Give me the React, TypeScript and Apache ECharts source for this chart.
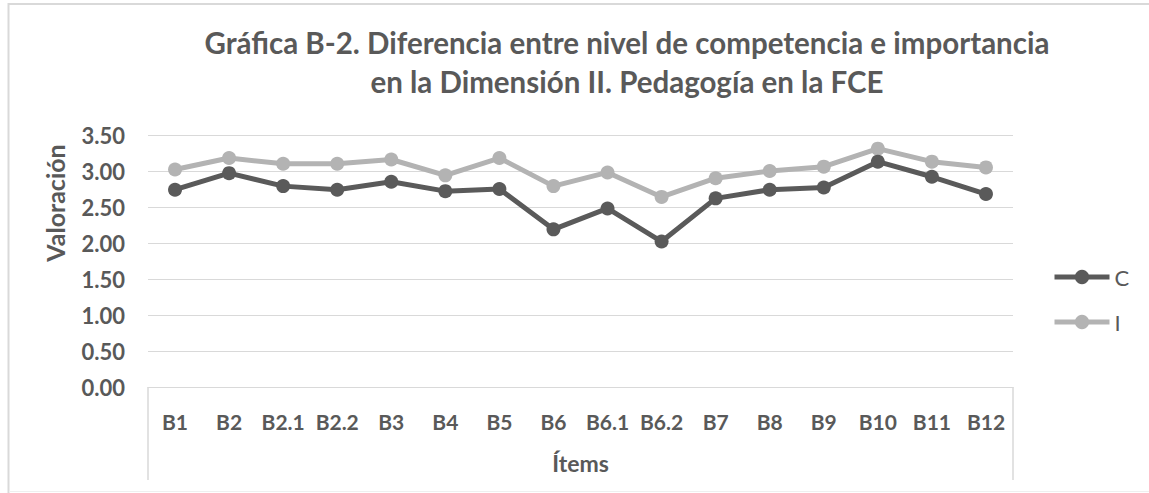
import React, { useEffect, useRef } from "react";
import * as echarts from "echarts";

const categories = ["B1", "B2", "B2.1", "B2.2", "B3", "B4", "B5", "B6", "B6.1", "B6.2", "B7", "B8", "B9", "B10", "B11", "B12"];
const valuesC = [2.74, 2.97, 2.79, 2.74, 2.85, 2.72, 2.75, 2.19, 2.48, 2.02, 2.62, 2.74, 2.77, 3.13, 2.92, 2.68];
const valuesI = [3.02, 3.18, 3.10, 3.10, 3.16, 2.94, 3.18, 2.79, 2.98, 2.64, 2.90, 3.00, 3.06, 3.31, 3.13, 3.05];
const yTicks = { min: 0, max: 3.5, interval: 0.5 };

const FONT = "Lato, 'Open Sans', sans-serif";
const TXT = "#595959";
const C_COLOR = "#5a5a5a";
const I_COLOR = "#b3b3b3";

export default function App() {
  const ref = useRef<HTMLDivElement>(null);
  useEffect(() => {
    if (!ref.current) return;
    const chart = echarts.init(ref.current, null, { renderer: "svg" });
    const mk = (name: string, data: number[], color: string) => ({
      name,
      type: "line",
      data,
      symbol: "circle",
      symbolSize: 14,
      itemStyle: { color },
      lineStyle: { color, width: 5 },
      z: name === "C" ? 3 : 2,
    });
    chart.setOption({
      animation: false,
      backgroundColor: "#ffffff",
      textStyle: { fontFamily: FONT },
      title: {
        text: "Gráfica B-2. Diferencia entre nivel de competencia e importancia\nen la Dimensión II. Pedagogía en la FCE",
        left: 622,
        top: 18,
        textAlign: "center",
        textStyle: { fontFamily: FONT, fontSize: 29.5, fontWeight: "bold", color: TXT, lineHeight: 39 },
      },
      legend: {
        orient: "vertical",
        left: 1047,
        top: 261,
        itemWidth: 55,
        itemHeight: 18,
        itemGap: 23,
        data: ["C", "I"],
        lineStyle: { width: 5 },
        textStyle: { fontFamily: FONT, fontSize: 22, lineHeight: 22, color: TXT },
      },
      grid: { left: 148, right: 136, top: 135, height: 252, containLabel: false },
      xAxis: {
        type: "category",
        data: categories,
        boundaryGap: true,
        name: "Ítems",
        nameLocation: "middle",
        nameGap: 64,
        nameTextStyle: { fontFamily: FONT, fontSize: 23, fontWeight: "bold", color: TXT },
        axisLine: { show: true, lineStyle: { color: "#d9d9d9", width: 1 } },
        axisTick: { show: false },
        axisLabel: { margin: 24, fontFamily: FONT, fontSize: 21, fontWeight: "bold", color: TXT, interval: 0 },
      },
      yAxis: {
        type: "value",
        min: yTicks.min,
        max: yTicks.max,
        interval: yTicks.interval,
        axisLine: { show: false },
        axisTick: { show: false },
        splitLine: { lineStyle: { color: "#d9d9d9", width: 1 } },
        axisLabel: {
          margin: 23,
          fontFamily: FONT,
          fontSize: 22,
          fontWeight: "bold",
          color: TXT,
          formatter: (v: number) => v.toFixed(2),
        },
      },
      graphic: [
        { type: "rect", shape: { x: 8.5, y: 4, width: 1200, height: 700 }, style: { fill: "none", stroke: "#d9d9d9", lineWidth: 2 }, silent: true },
        { type: "line", shape: { x1: 9, y1: 491.5, x2: 1149, y2: 491.5 }, style: { stroke: "#efefef", lineWidth: 1 }, silent: true },
        { type: "line", shape: { x1: 148, y1: 387, x2: 148, y2: 480 }, style: { stroke: "#d9d9d9", lineWidth: 1.5 }, silent: true },
        { type: "line", shape: { x1: 1013, y1: 387, x2: 1013, y2: 480 }, style: { stroke: "#d9d9d9", lineWidth: 1.5 }, silent: true },
        {
          type: "text",
          x: 55,
          y: 203,
          rotation: Math.PI / 2,
          style: { text: "Valoración", fontFamily: FONT, fontSize: 25, fontWeight: "bold", fill: TXT, align: "center", verticalAlign: "middle" },
          silent: true,
        },
      ],
      series: [mk("C", valuesC, C_COLOR), mk("I", valuesI, I_COLOR)],
    });
    return () => chart.dispose();
  }, []);
  return <div ref={ref} style={{ width: 1149, height: 493, position: "absolute", left: 0, top: 0 }} />;
}
